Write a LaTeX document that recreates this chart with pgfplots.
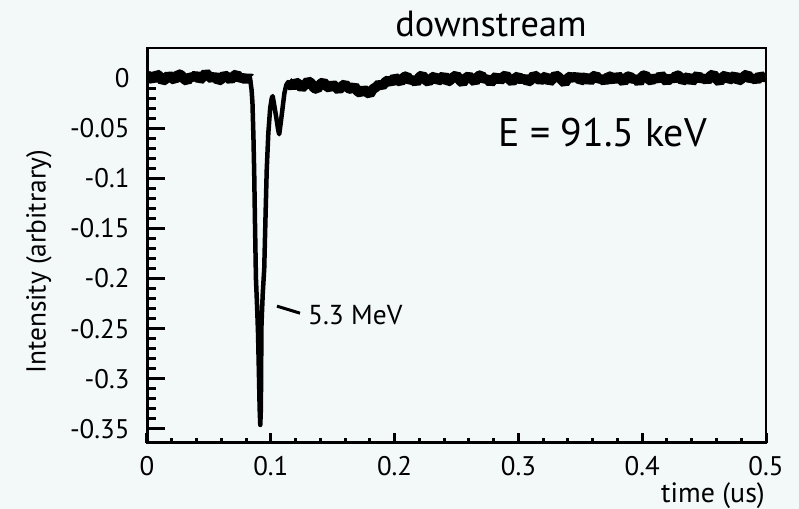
\documentclass[border=0pt]{standalone}
\usepackage{pgfplots}
\pgfplotsset{compat=1.18}
\usepackage{fontspec}
\setmainfont{PT Sans}
\definecolor{bg}{RGB}{243,248,248}

% baseline before the pulse
\pgfplotstableread{
t v
0.0000 0.003
0.0025 0.001
0.0050 -0.002
0.0075 0.004
0.0100 0.002
0.0125 -0.003
0.0150 -0.001
0.0175 0.003
0.0200 0.000
0.0225 -0.002
0.0250 0.004
0.0275 0.003
0.0300 -0.001
0.0325 -0.003
0.0350 0.002
0.0375 0.000
0.0400 0.004
0.0425 -0.002
0.0450 0.001
0.0475 0.005
0.0500 0.002
0.0525 -0.001
0.0550 0.003
0.0575 -0.003
0.0600 -0.001
0.0625 0.003
0.0650 0.001
0.0675 -0.002
0.0700 0.002
0.0725 0.004
0.0750 -0.001
0.0775 0.001
0.0800 -0.002
0.0825 0.001
0.0832 0.000
}\pre

% the pulse itself
\pgfplotstableread{
t v
0.0825 0.001
0.0832 0.000
0.0845 -0.012
0.0852 -0.025
0.0860 -0.060
0.0866 -0.095
0.0873 -0.150
0.0880 -0.200
0.0890 -0.230
0.0897 -0.255
0.0905 -0.300
0.0910 -0.330
0.0915 -0.346
0.0920 -0.330
0.0922 -0.290
0.0925 -0.245
0.0935 -0.215
0.0947 -0.190
0.0957 -0.140
0.0967 -0.092
0.0980 -0.055
0.0995 -0.030
0.1008 -0.020
0.1015 -0.018
0.1025 -0.025
0.1045 -0.040
0.1060 -0.052
0.1068 -0.056
0.1080 -0.045
0.1095 -0.030
0.1110 -0.015
0.1125 -0.007
0.1140 -0.004
0.1150 -0.005
}\pulse

% tail after the pulse
\pgfplotstableread{
t v
0.1140 -0.004
0.1150 -0.005
0.1175 -0.009
0.1200 -0.004
0.1225 -0.006
0.1250 -0.010
0.1275 -0.007
0.1300 -0.003
0.1325 -0.005
0.1350 -0.010
0.1375 -0.011
0.1400 -0.006
0.1425 -0.004
0.1450 -0.008
0.1475 -0.010
0.1500 -0.006
0.1525 -0.009
0.1550 -0.012
0.1575 -0.008
0.1600 -0.006
0.1625 -0.010
0.1650 -0.011
0.1675 -0.008
0.1700 -0.013
0.1725 -0.015
0.1750 -0.011
0.1775 -0.014
0.1800 -0.016
0.1825 -0.011
0.1850 -0.009
0.1875 -0.006
0.1900 -0.008
0.1925 -0.004
0.1950 -0.002
0.1975 -0.005
0.2000 0.001
0.2025 -0.002
0.2050 -0.004
0.2075 0.001
0.2100 0.002
0.2125 -0.003
0.2150 -0.001
0.2175 -0.005
0.2200 0.001
0.2225 0.003
0.2250 -0.002
0.2275 -0.004
0.2300 0.000
0.2325 0.002
0.2350 -0.003
0.2375 -0.001
0.2400 0.003
0.2425 -0.004
0.2450 -0.002
0.2475 0.001
0.2500 0.003
0.2525 -0.002
0.2550 -0.005
0.2575 0.000
0.2600 0.002
0.2625 -0.001
0.2650 -0.004
0.2675 0.002
0.2700 0.003
0.2725 -0.002
0.2750 0.000
0.2775 -0.005
0.2800 -0.001
0.2825 0.002
0.2850 -0.003
0.2875 0.001
0.2900 0.003
0.2925 -0.001
0.2950 -0.004
0.2975 0.000
0.3000 0.002
0.3025 -0.003
0.3050 0.001
0.3075 -0.004
0.3100 -0.002
0.3125 0.003
0.3150 0.001
0.3175 -0.003
0.3200 0.000
0.3225 0.002
0.3250 -0.004
0.3275 -0.001
0.3300 0.003
0.3325 0.001
0.3350 -0.002
0.3375 -0.005
0.3400 0.000
0.3425 0.002
0.3450 -0.001
0.3475 0.003
0.3500 -0.003
0.3525 -0.001
0.3550 0.002
0.3575 -0.004
0.3600 0.001
0.3625 0.003
0.3650 -0.002
0.3675 0.000
0.3700 -0.004
0.3725 0.002
0.3750 0.001
0.3775 -0.003
0.3800 0.003
0.3825 -0.001
0.3850 -0.004
0.3875 0.001
0.3900 0.002
0.3925 -0.002
0.3950 0.000
0.3975 -0.005
0.4000 0.002
0.4025 0.003
0.4050 -0.001
0.4075 -0.003
0.4100 0.001
0.4125 -0.002
0.4150 0.003
0.4175 0.000
0.4200 -0.004
0.4225 0.001
0.4250 -0.002
0.4275 0.003
0.4300 0.002
0.4325 -0.003
0.4350 -0.001
0.4375 0.002
0.4400 -0.004
0.4425 0.000
0.4450 0.003
0.4475 -0.002
0.4500 0.001
0.4525 -0.003
0.4550 0.002
0.4575 0.004
0.4600 -0.001
0.4625 -0.004
0.4650 0.001
0.4675 0.003
0.4700 -0.002
0.4725 0.000
0.4750 0.003
0.4775 -0.003
0.4800 -0.001
0.4825 0.002
0.4850 0.004
0.4875 -0.002
0.4900 0.001
0.4925 -0.003
0.4950 0.003
0.4975 0.000
0.5000 0.002
}\tail

\pgfplotsset{
  frame/.style={
    scale only axis,
    width=619bp, height=395bp,
    xmin=0, xmax=0.5,
    ymin=-0.364, ymax=0.030,
    tick align=inside,
    tick pos=left,
    tick style={line width=3bp, black},
    xtick={0,0.1,0.2,0.3,0.4,0.5},
    ytick={-0.35,-0.3,-0.25,-0.2,-0.15,-0.1,-0.05,0},
  },
}

\begin{document}
\begin{tikzpicture}
\useasboundingbox (-147bp,-66bp) rectangle (652bp,443bp);
\fill[bg] (-147bp,-66bp) rectangle (652bp,443bp);
% main axis: data, x ticks and all tick labels
\begin{axis}[
  frame,
  axis background/.style={fill=bg},
  axis line style={line width=2.5bp, black},
  major tick length=10bp, minor tick length=5bp,
  minor x tick num=4,
  ytick style={draw=none},
  xticklabels={0,0.1,0.2,0.3,0.4,0.5},
  yticklabels={-0.35,-0.3,-0.25,-0.2,-0.15,-0.1,-0.05,0},
  tick label style={font=\fontsize{27}{27}\selectfont, text=black},
  xticklabel style={yshift=-10bp},
  yticklabel style={xshift=-14bp},
]
\addplot[black, line width=10bp, line join=bevel] table[x=t, y=v] {\pre};
\addplot[black, line width=10bp, line join=bevel] table[x=t, y=v] {\tail};
\addplot[black, line width=4.5bp, line join=round] table[x=t, y=v] {\pulse};
% heavier left and bottom spines
\draw[line width=5bp, line cap=rect, black] (rel axis cs:0,1) -- (rel axis cs:0,0) -- (rel axis cs:1,0);
% pointer to the main peak
\draw[line width=3bp, black] (axis cs:0.1050,-0.2275) -- (axis cs:0.1236,-0.2345);
\end{axis}
% second axis on the same frame: the longer y ticks
\begin{axis}[
  frame,
  axis line style={draw=none},
  major tick length=18bp, minor tick length=9bp,
  xtick=\empty,
  minor y tick num=4,
  yticklabels={},
]
\end{axis}
\node[anchor=base, font=\fontsize{36.5}{36.5}\selectfont] at (344bp,406bp) {downstream};
\node[anchor=base, font=\fontsize{40}{40}\selectfont] at (455.5bp,296bp) {E = 91.5 keV};
\node[anchor=base west, inner sep=0pt, font=\fontsize{27.5}{27.5}\selectfont] at (161bp,118bp) {5.3 MeV};
\node[anchor=base east, inner sep=0pt, font=\fontsize{28}{28}\selectfont] at (618bp,-59bp) {time (us)};
\node[rotate=90, font=\fontsize{27.5}{27.5}\selectfont] at (-108bp,181bp) {Intensity (arbitrary)};
\end{tikzpicture}
\end{document}
